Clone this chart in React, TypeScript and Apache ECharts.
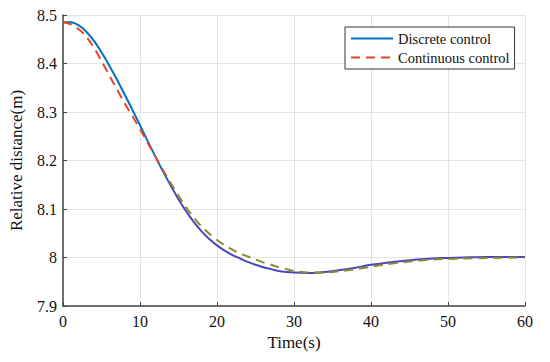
import React, { useEffect, useRef } from "react";
import * as echarts from "echarts";

const timeS = [0, 1, 2, 3, 4, 5, 6, 7, 8, 9, 10, 11, 12, 13, 14, 15, 16, 17, 18, 19, 20, 21, 22, 23, 24, 25, 26, 27, 28, 29, 30, 32, 34, 36, 38, 40, 42, 44, 46, 48, 50, 52, 55, 60];
const discrete = [8.485, 8.485, 8.479, 8.466, 8.447, 8.423, 8.396, 8.367, 8.336, 8.305, 8.273, 8.240, 8.208, 8.177, 8.148, 8.120, 8.095, 8.073, 8.054, 8.038, 8.025, 8.014, 8.005, 7.998, 7.991, 7.985, 7.980, 7.976, 7.972, 7.970, 7.969, 7.968, 7.970, 7.974, 7.979, 7.985, 7.989, 7.993, 7.996, 7.998, 7.999, 8.000, 8.001, 8.001];
const continuous = [8.485, 8.481, 8.471, 8.456, 8.433, 8.405, 8.376, 8.347, 8.318, 8.292, 8.265, 8.236, 8.208, 8.180, 8.153, 8.127, 8.103, 8.082, 8.064, 8.049, 8.036, 8.025, 8.016, 8.008, 8.002, 7.996, 7.990, 7.985, 7.980, 7.976, 7.972, 7.969, 7.969, 7.972, 7.976, 7.981, 7.986, 7.990, 7.993, 7.996, 7.997, 7.998, 7.999, 8.000];
const seriesNames = ["Discrete control", "Continuous control"];

const FONT = "Liberation Serif";

export default function App() {
  const ref = useRef<HTMLDivElement>(null);
  useEffect(() => {
    if (!ref.current) return;
    const chart = echarts.init(ref.current, undefined, { renderer: "svg" });
    const blueGrad = new echarts.graphic.LinearGradient(0, 0, 0, 1, [
      { offset: 0, color: "#0072BD" },
      { offset: 0.55, color: "#0072BD" },
      { offset: 0.72, color: "#4848BC" },
      { offset: 1, color: "#4848BC" },
    ]);
    const redGrad = new echarts.graphic.LinearGradient(0, 0, 0, 1, [
      { offset: 0, color: "#E8452C" },
      { offset: 0.55, color: "#E8452C" },
      { offset: 0.7, color: "#8C8A2E" },
      { offset: 1, color: "#8C8A2E" },
    ]);
    chart.setOption({
      animation: false,
      textStyle: { fontFamily: FONT },
      grid: { left: 62, right: 25, top: 15, bottom: 56 },
      legend: {
        left: 345,
        top: 27,
        orient: "vertical",
        backgroundColor: "#fff",
        borderColor: "#333",
        borderWidth: 1,
        padding: [4, 5, 4, 5],
        itemWidth: 42,
        itemHeight: 10,
        itemGap: 4,
        textStyle: { fontFamily: FONT, fontSize: 14.5, color: "#111" },
        data: [
          { name: seriesNames[0], itemStyle: { opacity: 0 }, lineStyle: { color: "#0072BD", width: 2 } },
          { name: seriesNames[1], itemStyle: { opacity: 0 }, lineStyle: { color: "#E8452C", width: 2, type: [9, 6] } },
        ],
      },
      xAxis: {
        type: "value",
        min: 0,
        max: 60,
        interval: 10,
        name: "Time(s)",
        nameLocation: "middle",
        nameGap: 28,
        nameTextStyle: { fontFamily: FONT, fontSize: 17, color: "#111" },
        axisLine: { show: true, lineStyle: { color: "#444", width: 1.5 } },
        axisTick: { show: true, inside: true, length: 4, lineStyle: { color: "#444" } },
        axisLabel: { fontFamily: FONT, fontSize: 16, color: "#111", margin: 7 },
        splitLine: { show: true, lineStyle: { color: "#e4e4e4", width: 1 } },
      },
      yAxis: {
        type: "value",
        min: 7.9,
        max: 8.5,
        interval: 0.1,
        name: "Relative distance(m)",
        nameLocation: "middle",
        nameGap: 38,
        nameTextStyle: { fontFamily: FONT, fontSize: 17, color: "#111" },
        axisLine: { show: true, lineStyle: { color: "#444", width: 1.5 } },
        axisTick: { show: true, inside: true, length: 4, lineStyle: { color: "#444" } },
        axisLabel: {
          fontFamily: FONT,
          fontSize: 16,
          color: "#111",
          margin: 6,
          formatter: (v: number) => String(Math.round(v * 10) / 10),
        },
        splitLine: { show: true, lineStyle: { color: "#e4e4e4", width: 1 } },
      },
      series: [
        {
          name: seriesNames[0],
          type: "line",
          smooth: 0.3,
          symbol: "none",
          data: timeS.map((t, i) => [t, discrete[i]]),
          lineStyle: { color: blueGrad, width: 2 },
          itemStyle: { color: "#0072BD" },
          z: 2,
        },
        {
          name: seriesNames[1],
          type: "line",
          smooth: 0.3,
          symbol: "none",
          data: timeS.map((t, i) => [t, continuous[i]]),
          lineStyle: { color: redGrad, width: 2, type: [9, 6] },
          itemStyle: { color: "#E8452C" },
          z: 3,
        },
      ],
    });
    return () => chart.dispose();
  }, []);
  return <div ref={ref} style={{ width: 550, height: 362, position: "absolute", left: 0, top: 0 }} />;
}
